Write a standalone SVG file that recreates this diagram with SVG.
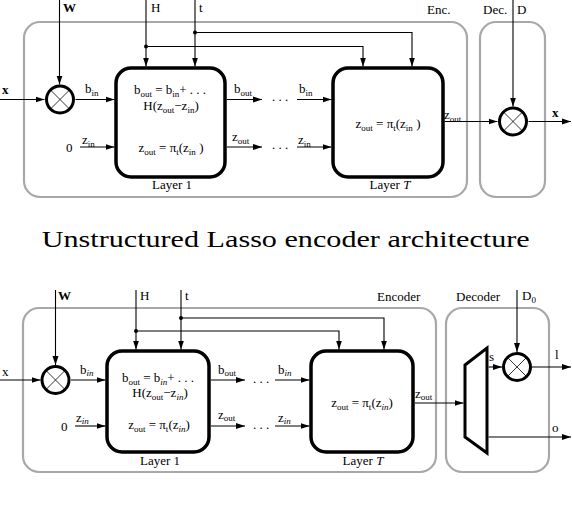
<svg xmlns="http://www.w3.org/2000/svg" width="572" height="506" viewBox="0 0 572 506">
<style>
.t{font-family:"Liberation Serif","DejaVu Serif",serif;font-size:13px;fill:#000}
.s{font-size:9px}
.b{font-weight:bold}
.cap{font-family:"Liberation Serif","DejaVu Serif",serif;font-size:23px;fill:#000}
.grp{fill:none;stroke:#a8a8a8;stroke-width:2.2}
.layer{fill:#fff;stroke:#000;stroke-width:3.5}
.mul{fill:#fff;stroke:#000;stroke-width:3}
.x{stroke:#000;stroke-width:0.8}
.c{fill:none;stroke:#000;stroke-width:1.1}
.a{marker-end:url(#ah)}
</style>
<defs>
<marker id="ah" markerWidth="9" markerHeight="7" refX="9" refY="3.5" orient="auto" markerUnits="userSpaceOnUse">
<path d="M0,0.5 L9,3.5 L0,6.5 z" fill="#000"/>
</marker>
</defs>

<!-- ===== TOP DIAGRAM ===== -->
<g id="enc-top">
<rect class="grp" x="24" y="22" width="443" height="175" rx="16"/>
<text class="t" x="427" y="14">Enc.</text>
</g>
<g id="dec-top">
<rect class="grp" x="480" y="22" width="65" height="175" rx="16"/>
<text class="t" x="483" y="14">Dec.</text>
</g>
<g id="layer1-top">
<rect class="layer" x="116" y="68" width="109" height="109" rx="15"/>
<text class="t" x="170" y="94" text-anchor="middle">b<tspan class="s" dy="2.5">out</tspan><tspan dy="-2.5"> = b</tspan><tspan class="s" dy="2.5">in</tspan><tspan dy="-2.5">+ . . .</tspan></text>
<text class="t" x="171" y="110" text-anchor="middle">H(z<tspan class="s" dy="2.5">out</tspan><tspan dy="-2.5">−z</tspan><tspan class="s" dy="2.5">in</tspan><tspan dy="-2.5">)</tspan></text>
<text class="t" x="171" y="152" text-anchor="middle">z<tspan class="s" dy="2.5">out</tspan><tspan dy="-2.5"> = π</tspan><tspan class="s" dy="2.5">t</tspan><tspan dy="-2.5">(z</tspan><tspan class="s" dy="2.5">in</tspan><tspan dy="-2.5"> )</tspan></text>
<text class="t" x="172" y="189" text-anchor="middle">Layer 1</text>
</g>
<g id="layerT-top">
<rect class="layer" x="333" y="68" width="110" height="109" rx="15"/>
<text class="t" x="388" y="128" text-anchor="middle">z<tspan class="s" dy="2.5">out</tspan><tspan dy="-2.5"> = π</tspan><tspan class="s" dy="2.5">t</tspan><tspan dy="-2.5">(z</tspan><tspan class="s" dy="2.5">in</tspan><tspan dy="-2.5"> )</tspan></text>
<text class="t" x="390" y="189" text-anchor="middle">Layer <tspan font-style="italic">T</tspan></text>
</g>
<g id="mulW-top">
<circle class="mul" cx="60" cy="99.5" r="13.5"/>
<path class="x" d="M50.5,90 L69.5,109 M69.5,90 L50.5,109"/>
</g>
<g id="mulD-top">
<circle class="mul" cx="513" cy="121.5" r="13.5"/>
<path class="x" d="M503.5,112 L522.5,131 M522.5,112 L503.5,131"/>
</g>

<g id="connectors-top">
<path class="c a" d="M59.5,0 V84.5"/>
<path class="c a" d="M0,99.5 H44.5"/>
<path class="c a" d="M75.5,99.5 H114.5"/>
<path class="c a" d="M80,147 H114.5"/>
<path class="c a" d="M226.75,99.5 H262"/>
<path class="c a" d="M226.75,147 H262"/>
<path class="c a" d="M297,99.5 H331.5"/>
<path class="c a" d="M297,147 H331.5"/>
<path class="c a" d="M146,0 V66.5"/>
<path class="c a" d="M195,0 V66.5"/>
<path class="c a" d="M146,46.5 H363 V66.5"/>
<path class="c a" d="M195,32.5 H412 V66.5"/>
<path class="c a" d="M444.75,121.5 H497.5"/>
<path class="c a" d="M513,0 V106.5"/>
<path class="c a" d="M528.5,121.5 H571"/>
<circle cx="146" cy="46.5" r="2"/>
<circle cx="195" cy="32.5" r="2"/>
</g>
<g id="labels-top">
<text class="t b" x="63" y="12">W</text>
<text class="t" x="151" y="12">H</text>
<text class="t" x="199" y="12">t</text>
<text class="t" x="517" y="14">D</text>
<text class="t b" x="2" y="94">x</text>
<text class="t" x="85" y="93">b<tspan class="s" dy="2.5">in</tspan></text>
<text class="t" x="66" y="152">0</text>
<text class="t" x="82" y="144">z<tspan class="s" dy="2.5">in</tspan></text>
<text class="t" x="234" y="93">b<tspan class="s" dy="2.5">out</tspan></text>
<text class="t" x="232" y="141">z<tspan class="s" dy="2.5">out</tspan></text>
<text class="t" x="272" y="101">. . .</text>
<text class="t" x="272" y="149">. . .</text>
<text class="t" x="299" y="93">b<tspan class="s" dy="2.5">in</tspan></text>
<text class="t" x="298" y="144">z<tspan class="s" dy="2.5">in</tspan></text>
<text class="t" x="444" y="119">z<tspan class="s" dy="2.5">out</tspan></text>
<text class="t b" x="552" y="117">x</text>
</g>

<text class="cap" x="41.7" y="247" textLength="488" lengthAdjust="spacingAndGlyphs">Unstructured Lasso encoder architecture</text>

<!-- ===== BOTTOM DIAGRAM ===== -->
<g id="enc-bot">
<rect class="grp" x="23" y="308" width="413" height="164" rx="16"/>
<text class="t" x="377" y="301">Encoder</text>
</g>
<g id="dec-bot">
<rect class="grp" x="446" y="308" width="103" height="164" rx="16"/>
<text class="t" x="456" y="301">Decoder</text>
</g>
<g id="layer1-bot">
<rect class="layer" x="107" y="351" width="102" height="101" rx="15"/>
<text class="t" x="158" y="382" text-anchor="middle">b<tspan class="s" dy="2.5">out</tspan><tspan dy="-2.5"> = b</tspan><tspan class="s" dy="2.5" font-style="italic">in</tspan><tspan dy="-2.5">+ . . .</tspan></text>
<text class="t" x="160" y="397" text-anchor="middle">H(z<tspan class="s" dy="2.5">out</tspan><tspan dy="-2.5">−z</tspan><tspan class="s" dy="2.5" font-style="italic">in</tspan><tspan dy="-2.5">)</tspan></text>
<text class="t" x="159" y="429" text-anchor="middle">z<tspan class="s" dy="2.5">out</tspan><tspan dy="-2.5"> = π</tspan><tspan class="s" dy="2.5">t</tspan><tspan dy="-2.5">(z</tspan><tspan class="s" dy="2.5" font-style="italic">in</tspan><tspan dy="-2.5">)</tspan></text>
<text class="t" x="160" y="465" text-anchor="middle">Layer 1</text>
</g>
<g id="layerT-bot">
<rect class="layer" x="311" y="351" width="102" height="101" rx="15"/>
<text class="t" x="362" y="407" text-anchor="middle">z<tspan class="s" dy="2.5">out</tspan><tspan dy="-2.5"> = π</tspan><tspan class="s" dy="2.5">t</tspan><tspan dy="-2.5">(z</tspan><tspan class="s" dy="2.5" font-style="italic">in</tspan><tspan dy="-2.5">)</tspan></text>
<text class="t" x="363" y="465" text-anchor="middle">Layer <tspan font-style="italic">T</tspan></text>
</g>
<g id="mulW-bot">
<circle class="mul" cx="55.5" cy="380" r="13.5"/>
<path class="x" d="M46,370.5 L65,389.5 M65,370.5 L46,389.5"/>
</g>
<g id="mux-bot">
<polygon points="465,365 487,348 487,453 465,437" fill="#fff" stroke="#000" stroke-width="3" stroke-linejoin="miter"/>
</g>
<g id="mulD-bot">
<circle class="mul" cx="517" cy="367" r="13.5"/>
<path class="x" d="M507.5,357.5 L526.5,376.5 M526.5,357.5 L507.5,376.5"/>
</g>

<g id="connectors-bot">
<path class="c a" d="M55.5,290 V365"/>
<path class="c a" d="M0,380 H40.5"/>
<path class="c a" d="M71,380 H105.5"/>
<path class="c a" d="M75,426 H105.5"/>
<path class="c a" d="M210.75,380 H245"/>
<path class="c a" d="M210.75,426 H245"/>
<path class="c a" d="M275,380 H309.5"/>
<path class="c a" d="M275,426 H309.5"/>
<path class="c a" d="M136,290 V349.5"/>
<path class="c a" d="M181,290 V349.5"/>
<path class="c a" d="M136,331 H339 V349.5"/>
<path class="c a" d="M181,318 H384 V349.5"/>
<path class="c a" d="M414.75,403 H463.5"/>
<path class="c a" d="M488.5,367 H502"/>
<path class="c a" d="M517,290 V352"/>
<path class="c a" d="M532,367 H571"/>
<path class="c a" d="M488.5,437 H571"/>
<circle cx="136" cy="331" r="2"/>
<circle cx="181" cy="318" r="2"/>
</g>
<g id="labels-bot">
<text class="t b" x="58" y="300">W</text>
<text class="t" x="140" y="300">H</text>
<text class="t" x="185" y="300">t</text>
<text class="t" x="522" y="300">D<tspan class="s" dy="3">0</tspan></text>
<text class="t" x="2" y="376">x</text>
<text class="t" x="80" y="374">b<tspan class="s" dy="2" font-style="italic">in</tspan></text>
<text class="t" x="61" y="431">0</text>
<text class="t" x="76" y="422">z<tspan class="s" dy="2" font-style="italic">in</tspan></text>
<text class="t" x="218" y="374">b<tspan class="s" dy="2">out</tspan></text>
<text class="t" x="218" y="419">z<tspan class="s" dy="2">out</tspan></text>
<text class="t" x="253" y="383">. . .</text>
<text class="t" x="253" y="429">. . .</text>
<text class="t" x="278" y="374">b<tspan class="s" dy="2" font-style="italic">in</tspan></text>
<text class="t" x="278" y="422">z<tspan class="s" dy="2" font-style="italic">in</tspan></text>
<text class="t" x="415" y="398">z<tspan class="s" dy="2">out</tspan></text>
<text class="t" x="489" y="361">s</text>
<text class="t" x="555" y="359">l</text>
<text class="t" x="552" y="432">o</text>
</g>
</svg>
